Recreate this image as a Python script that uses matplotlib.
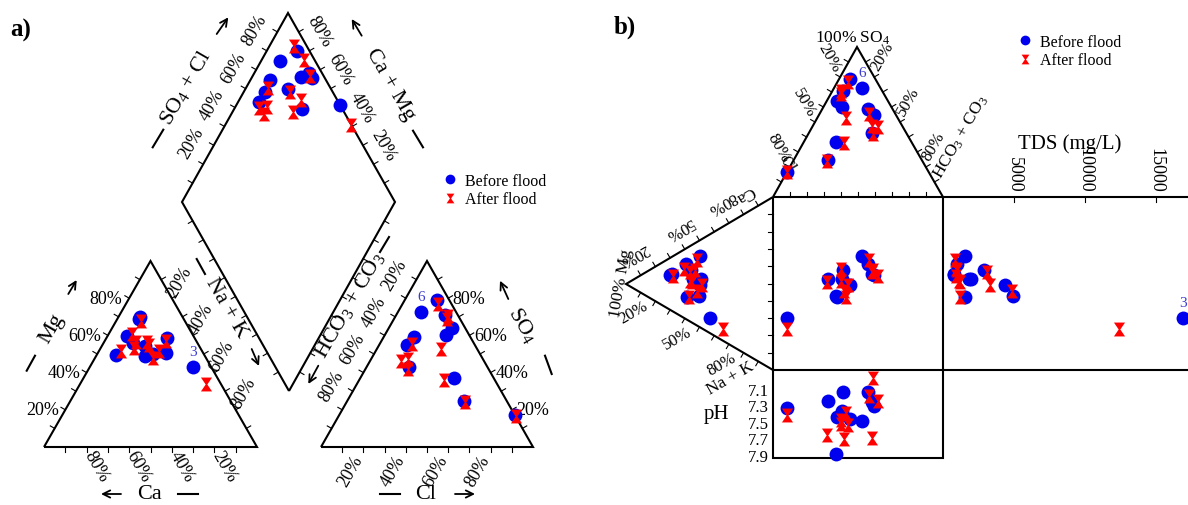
import numpy as np
import matplotlib.pyplot as plt
from matplotlib.path import Path
from matplotlib.lines import Line2D

plt.rcParams['font.family'] = ['Liberation Serif', 'DejaVu Serif']
plt.rcParams['mathtext.fontset'] = 'custom'
plt.rcParams['mathtext.rm'] = 'Liberation Serif'
plt.rcParams['mathtext.it'] = 'Liberation Serif:italic'

# ---- data: 11 sites, % of meq (cations / anions), TDS in mg/L, pH
sites = [1, 2, 3, 4, 5, 6, 7, 8, 9, 10, 11]
labelled = [3, 6]

# before flood
ca_b = [24, 30, 8.5, 13, 28, 41.5, 31.5, 20, 21, 17.5, 25.5]
mg_b = [50, 56, 43, 58.5, 49, 49.5, 59.5, 70, 69, 50.5, 54.5]
nak_b = [26, 14, 48.5, 28.5, 23, 9, 9, 10, 10, 32, 20]
hco3_b = [6, 6, 0, 6, 11, 16.5, 26.5, 32, 37, 19, 20]
so4_b = [79, 71, 17, 64, 60, 72.5, 59, 55, 43, 37, 25]
cl_b = [15, 23, 83, 30, 29, 11, 14.5, 13, 20, 44, 55]
tds_b = [4370, 2890, 16900, 1550, 1950, 1550, 965, 775, 800, 4950, 1850]
ph_b = [7.44, 7.11, 7.31, 7.42, 7.34, 7.47, 7.11, 7.29, 7.24, 7.87, 7.22]

# after flood
ca_a = [25, 28.3, 7, 14, 23.5, 38, 28.6, 20.5, 31.4, 20, 23.3]
mg_a = [48, 60.5, 34, 57, 56.5, 51.6, 56.5, 68, 53.1, 51.7, 55]
nak_a = [27, 11.2, 59, 29, 20, 10.4, 14.9, 11.5, 15.5, 28.3, 21.7]
hco3_a = [6.3, 6, 0, 17, 5, 29.3, 35, 39, 38, 24, 20]
so4_a = [77, 68.7, 16.5, 52.5, 70.5, 55.3, 47.5, 46.5, 42, 36, 24]
cl_a = [16.7, 25.3, 83.5, 30.5, 24.5, 15.4, 17.5, 14.5, 20, 40, 56]
tds_a = [3310, 915, 12400, 1200, 1150, 845, 3080, 900, 1000, 4840, 1200]
ph_a = [7.51, 7.50, 7.40, 7.37, 7.45, 7.17, 7.67, 7.23, 6.94, 7.69, 7.64]

pct_ticks = [20, 40, 60, 80]
durov_ticks = [20, 50, 80]
tds_ticks = [5000, 10000, 15000]
ph_ticks = [7.1, 7.3, 7.5, 7.7, 7.9]

# ---- layout (figure pixels, y down)
CAT_CA, CAT_MG, CAT_NAK = (44, 448), (150.5, 262), (257, 448)
AN_HCO3, AN_SO4, AN_CL = (321, 448), (427, 262), (533, 448)
DIA_B, DIA_L, DIA_R, DIA_T = (289, 392), (182, 203), (395, 203), (288, 14)
DU_CL, DU_HCO3, DU_SO4 = (773, 198), (943, 198), (857, 48)
DU_MG, DU_CA, DU_NAK = (626, 285), (773, 198), (773, 371)
SQ_X0, SQ_X1, SQ_Y0, SQ_Y1 = 773, 943, 198, 371
PH_Y1 = 459
TDS_PX = 0.0142          # px per mg/L
PH_REF, PH_PX = (7.1, 391.7), 82.5

BLUE = '#0000ee'
RED = '#ff0000'
LW = 1.5

hourglass = Path([(-0.8, 1), (0.8, 1), (0.12, 0), (0.8, -1), (-0.8, -1), (-0.12, 0), (-0.8, 1)],
                 [Path.MOVETO] + [Path.LINETO] * 5 + [Path.CLOSEPOLY])

fig = plt.figure(figsize=(11.88, 5.06), dpi=100)
ax = fig.add_axes([0, 0, 1, 1])
ax.set_xlim(0, 1188)
ax.set_ylim(506, 0)
ax.axis('off')


def tern(a, b, c, pa, pb, pc):
    a, b, c = np.asarray(a, float), np.asarray(b, float), np.asarray(c, float)
    s = a + b + c
    x = (a * pa[0] + b * pb[0] + c * pc[0]) / s
    y = (a * pa[1] + b * pb[1] + c * pc[1]) / s
    return x, y


def outline(pts, lw=LW):
    pts = np.array(pts)
    ax.plot(pts[:, 0], pts[:, 1], color='k', lw=lw, solid_joinstyle='miter', solid_capstyle='butt')


def ticks(p0, p1, inside, n=10, length=5):
    p0, p1 = np.array(p0, float), np.array(p1, float)
    d = (p1 - p0) / np.hypot(*(p1 - p0))
    nrm = np.array([d[1], -d[0]])
    if np.dot(nrm, (p0 + p1) / 2 - np.array(inside)) < 0:
        nrm = -nrm
    for f in np.arange(1, n) / n:
        q = p0 + f * (p1 - p0)
        e = q + nrm * length
        ax.plot([q[0], e[0]], [q[1], e[1]], color='k', lw=0.8)


def edge_labels(p0, p1, values, offset, rot, size=13):
    p0, p1 = np.array(p0, float), np.array(p1, float)
    for v in values:
        q = p0 + v / 100 * (p1 - p0)
        ax.text(q[0] + offset[0], q[1] + offset[1], f'{v}%', rotation=rot,
                ha='center', va='center', rotation_mode='anchor', fontsize=size)


def arrow(p0, p1):
    ax.annotate('', xy=p1, xytext=p0,
                arrowprops=dict(arrowstyle='->', lw=1.3, color='k', shrinkA=0, shrinkB=0,
                                mutation_scale=13))


def dash(p0, p1):
    ax.plot([p0[0], p1[0]], [p0[1], p1[1]], color='k', lw=1.5)


def points(x, y, before):
    if before:
        ax.plot(x, y, 'o', ms=10, color=BLUE, mec='none', zorder=5)
    else:
        ax.plot(x, y, marker=hourglass, ls='none', ms=10, color=RED, mec='none', zorder=6)


# ================= a) Piper =================
outline([CAT_CA, CAT_NAK, CAT_MG, CAT_CA])
outline([AN_HCO3, AN_CL, AN_SO4, AN_HCO3])
outline([DIA_B, DIA_L, DIA_T, DIA_R, DIA_B])

cat_c = np.mean([CAT_CA, CAT_MG, CAT_NAK], axis=0)
an_c = np.mean([AN_HCO3, AN_SO4, AN_CL], axis=0)
dia_c = np.mean([DIA_B, DIA_T], axis=0)
for p0, p1 in [(CAT_CA, CAT_NAK), (CAT_NAK, CAT_MG), (CAT_MG, CAT_CA)]:
    ticks(p0, p1, cat_c)
for p0, p1 in [(AN_HCO3, AN_CL), (AN_CL, AN_SO4), (AN_SO4, AN_HCO3)]:
    ticks(p0, p1, an_c)
for p0, p1 in [(DIA_B, DIA_L), (DIA_L, DIA_T), (DIA_T, DIA_R), (DIA_R, DIA_B)]:
    ticks(p0, p1, dia_c)

edge_labels(DIA_L, DIA_T, pct_ticks, (-12, -21.5), 60)
edge_labels(DIA_R, DIA_T, pct_ticks, (10, -19.5), -60)
edge_labels(CAT_CA, CAT_MG, pct_ticks, (-23, 0), 0)
edge_labels(CAT_NAK, CAT_CA, pct_ticks, (9.5, 18.5), -60)
edge_labels(CAT_MG, CAT_NAK, pct_ticks, (7.5, -17), 60)
edge_labels(AN_SO4, AN_HCO3, pct_ticks, (-11, -24), 60)
edge_labels(AN_HCO3, AN_CL, pct_ticks, (-13, 23.5), 60)
edge_labels(AN_CL, AN_SO4, pct_ticks, (21, 0), 0)

ax.text(186, 88, 'SO$_4$ + Cl', rotation=60, ha='center', va='center', fontsize=16)
ax.text(390, 85, 'Ca + Mg', rotation=-60, ha='center', va='center', fontsize=16)
ax.text(52, 329, 'Mg', rotation=60, ha='center', va='center', fontsize=16)
ax.text(150, 495, 'Ca', ha='center', va='center', fontsize=16)
ax.text(226, 308, 'Na + K', rotation=-60, ha='center', va='center', fontsize=16)
ax.text(350, 305, 'HCO$_3$ + CO$_3$', rotation=60, ha='center', va='center', fontsize=16)
ax.text(523, 325, 'SO$_4$', rotation=-60, ha='center', va='center', fontsize=16)
ax.text(426, 495, 'Cl', ha='center', va='center', fontsize=16)

arrow((216.7, 35), (228.3, 18.3))
dash((152.7, 148.3), (163.3, 130.7))
arrow((361.7, 36.7), (351.7, 20))
dash((413, 131.7), (423, 148.3))
arrow((68.3, 295), (76.7, 281))
dash((26.7, 371.7), (35, 356.7))
arrow((121, 495), (101, 495))
dash((178, 495), (198, 495))
arrow((251.7, 350), (259, 367))
dash((196.7, 260), (205, 275))
arrow((318.3, 366.7), (308.3, 385))
dash((380, 253), (389, 238))
arrow((508.3, 300), (500, 281.7))
dash((545, 356.7), (551.7, 375))
dash((380, 495), (400, 495))
arrow((455, 495), (475, 495))

for before, ca, mg, nak, hco3, so4, cl in [
        (True, ca_b, mg_b, nak_b, hco3_b, so4_b, cl_b),
        (False, ca_a, mg_a, nak_a, hco3_a, so4_a, cl_a)]:
    cx, cy = tern(ca, mg, nak, CAT_CA, CAT_MG, CAT_NAK)
    axx, ayy = tern(hco3, so4, cl, AN_HCO3, AN_SO4, AN_CL)
    ca_, mg_, nak_ = (np.asarray(v, float) for v in (ca, mg, nak))
    hc_, so_, cl_ = (np.asarray(v, float) for v in (hco3, so4, cl))
    c = (ca_ + mg_) / (ca_ + mg_ + nak_)
    a = (so_ + cl_) / (hc_ + so_ + cl_)
    dx = DIA_B[0] + c * (DIA_L[0] - DIA_B[0]) + a * (DIA_R[0] - DIA_B[0])
    dy = DIA_B[1] + c * (DIA_L[1] - DIA_B[1]) + a * (DIA_R[1] - DIA_B[1])
    points(cx, cy, before)
    points(axx, ayy, before)
    points(dx, dy, before)
    if before:
        for s in labelled:
            i = sites.index(s)
            if s == 3:
                ax.text(cx[i], cy[i] - 16, str(s), color='#3c3cd0', fontsize=11, ha='center', va='center')
            else:
                ax.text(axx[i], ayy[i] - 16, str(s), color='#3c3cd0', fontsize=11, ha='center', va='center')

ax.text(10, 30, 'a)', fontsize=18, fontweight='bold', va='center')
ax.text(614, 27, 'b)', fontsize=18, fontweight='bold', va='center')

handles = [Line2D([], [], marker='o', ls='none', ms=7, color=BLUE, mec='none'),
           Line2D([], [], marker=hourglass, ls='none', ms=7, color=RED, mec='none')]
leg_kw = dict(loc='upper left', frameon=False, borderpad=0, handlelength=0.8,
              handletextpad=0.5, labelspacing=0.15, fontsize=11.5, bbox_transform=ax.transData)
leg = ax.legend(handles, ['Before flood', 'After flood'], bbox_to_anchor=(436, 166), **leg_kw)
ax.add_artist(leg)
ax.legend(handles, ['Before flood', 'After flood'], bbox_to_anchor=(1011, 27), **leg_kw)

# ================= b) Durov =================
outline([DU_CL, DU_SO4, DU_HCO3])
outline([DU_CA, DU_MG, DU_NAK])
outline([(SQ_X0, SQ_Y0), (1188, SQ_Y0)])
outline([(SQ_X0, SQ_Y1), (1188, SQ_Y1)])
outline([(SQ_X0, SQ_Y0), (SQ_X0, PH_Y1), (SQ_X1, PH_Y1), (SQ_X1, SQ_Y0)])

top_c = np.mean([DU_CL, DU_SO4, DU_HCO3], axis=0)
left_c = np.mean([DU_MG, DU_CA, DU_NAK], axis=0)
ticks(DU_CL, DU_SO4, top_c)
ticks(DU_SO4, DU_HCO3, top_c)
ticks(DU_MG, DU_CA, left_c)
ticks(DU_MG, DU_NAK, left_c)
ticks((SQ_X0, SQ_Y0), (SQ_X1, SQ_Y0), (SQ_X0 + 80, SQ_Y0 + 200))
ticks((SQ_X0, SQ_Y0), (SQ_X0, SQ_Y1), (SQ_X0 + 200, SQ_Y0 + 80))

edge_labels(DU_SO4, DU_CL, durov_ticks, (-11, -20), -60, size=12)
edge_labels(DU_SO4, DU_HCO3, durov_ticks, (8, -21), 60, size=12)
edge_labels(DU_MG, DU_CA, durov_ticks, (-21, -12.5), 210, size=12)
edge_labels(DU_MG, DU_NAK, durov_ticks, (-22, 11), 30, size=12)

ax.text(853, 38, '100% SO$_4$', ha='center', va='center', fontsize=12.5)
ax.text(787, 164, 'Cl', rotation=-60, ha='center', va='center', fontsize=12.5)
ax.text(961, 137, 'HCO$_3$ + CO$_3$', rotation=60, ha='center', va='center', fontsize=12.5)
ax.text(745, 194, 'Ca', rotation=210, ha='center', va='center', fontsize=12.5)
ax.text(730, 379, 'Na + K', rotation=30, ha='center', va='center', fontsize=12.5)
ax.text(621, 284, '100% Mg', rotation=80, ha='center', va='center', fontsize=12.5)

for v in tds_ticks:
    x = SQ_X1 + v * TDS_PX
    ax.plot([x, x], [SQ_Y0, SQ_Y0 + 5], color='k', lw=0.8)
    ax.text(x, SQ_Y0 - 5, str(v), rotation=-90, ha='right', va='center',
            rotation_mode='anchor', fontsize=13)
ax.text(1070, 144, 'TDS (mg/L)', ha='center', va='center', fontsize=15)

for v in ph_ticks:
    ax.text(769, PH_REF[1] + (v - PH_REF[0]) * PH_PX, f'{v:.1f}', ha='right', va='center', fontsize=12)
ax.text(716, 415, 'pH', ha='center', va='center', fontsize=15)

for before, ca, mg, nak, hco3, so4, cl, tds, ph in [
        (True, ca_b, mg_b, nak_b, hco3_b, so4_b, cl_b, tds_b, ph_b),
        (False, ca_a, mg_a, nak_a, hco3_a, so4_a, cl_a, tds_a, ph_a)]:
    tx, ty = tern(cl, so4, hco3, DU_CL, DU_SO4, DU_HCO3)
    lx, ly = tern(ca, mg, nak, DU_CA, DU_MG, DU_NAK)
    tdx = SQ_X1 + np.asarray(tds) * TDS_PX
    phy = PH_REF[1] + (np.asarray(ph) - PH_REF[0]) * PH_PX
    points(tx, ty, before)
    points(lx, ly, before)
    points(tx, ly, before)
    points(tdx, ly, before)
    points(tx, phy, before)
    if before:
        i6, i3 = sites.index(6), sites.index(3)
        ax.text(tx[i6], ty[i6] - 16, '6', color='#3c3cd0', fontsize=11, ha='center', va='center')
        ax.text(tdx[i3], ly[i3] - 16, '3', color='#3c3cd0', fontsize=11, ha='center', va='center')

fig.savefig('out.png', dpi=100)
